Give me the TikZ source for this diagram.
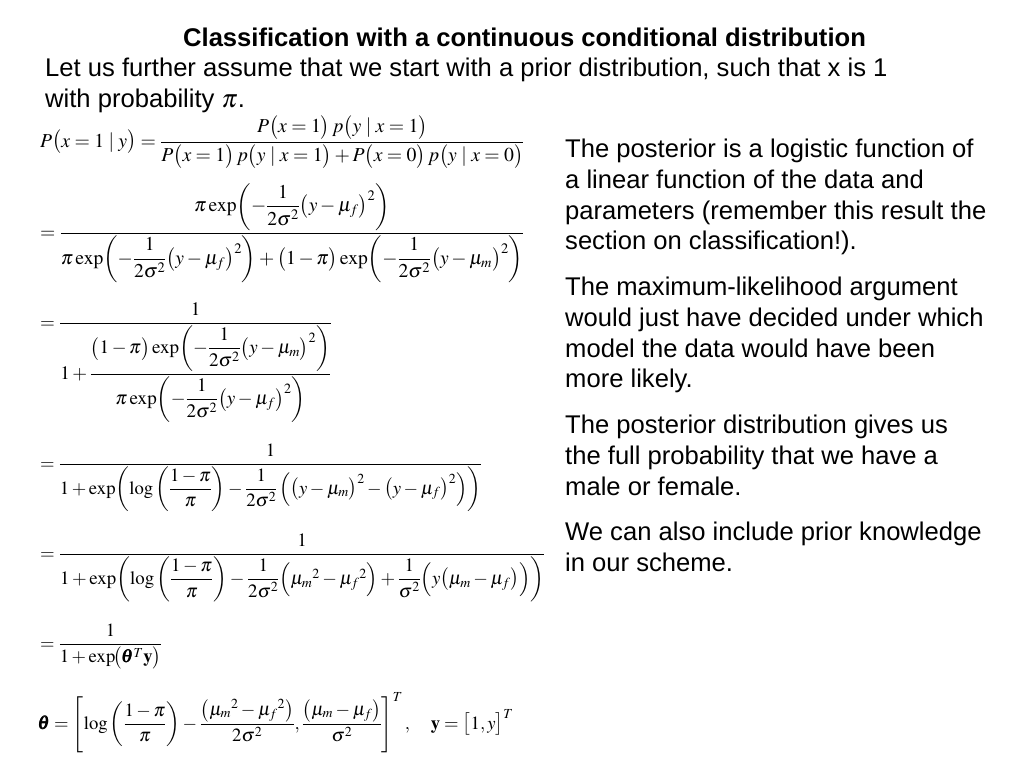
\documentclass[tikz,border=0pt]{standalone}
\usepackage{amsmath}
\usepackage{mathptmx}
\usepackage{graphicx}
\usepackage[no-math]{fontspec}
\setmainfont{Liberation Sans}
\tikzset{
  txt/.style={anchor=base west, inner sep=0pt, font=\fontsize{25.6}{30.7}\selectfont},
  ttl/.style={anchor=base, inner sep=0pt, font=\fontsize{25.6}{30.7}\selectfont\bfseries},
  eq/.style={anchor=base west, inner sep=0pt, font=\fontsize{22}{26}\selectfont},
}
\newcommand{\eqbox}[2]{\resizebox{#1pt}{!}{$\displaystyle #2$}}
\newcommand{\mybar}{\;|\;}
\newcommand{\halfsig}{\dfrac{1}{2\sigma^2}}
\newcommand{\xp}{\exp\!}
\begin{document}
\begin{tikzpicture}[x=1pt,y=-1pt]
\useasboundingbox[fill=white] (0,0) rectangle (1024,768);
\node[ttl] (title) at (524.5,46) {Classification with a continuous conditional distribution};
\node[txt] (intro1) at (45,76) {Let us further assume that we start with a prior distribution, such that x is 1};
\node[txt] (intro2) at (45,107) {with probability $\pi$.};

% equations
\node[eq] (e1) at (40,147) {\eqbox{484}{P\bigl(x=1\mybar y\bigr)=\dfrac{P\bigl(x=1\bigr)\,p\bigl(y\mybar x=1\bigr)}{P\bigl(x=1\bigr)\,p\bigl(y\mybar x=1\bigr)+P\bigl(x=0\bigr)\,p\bigl(y\mybar x=0\bigr)}}};

\node[eq] (e2) at (40,238) {\eqbox{484}{=\dfrac{\pi\xp\left(-\halfsig\bigl(y-\mu_f\bigr)^2\right)}{\pi\xp\left(-\halfsig\bigl(y-\mu_f\bigr)^2\right)+\bigl(1-\pi\bigr)\xp\left(-\halfsig\bigl(y-\mu_m\bigr)^2\right)}}};

\node[eq] (e3) at (40,328) {\eqbox{292}{=\dfrac{1}{1+\dfrac{\bigl(1-\pi\bigr)\xp\left(-\halfsig\bigl(y-\mu_m\bigr)^2\right)}{\pi\xp\left(-\halfsig\bigl(y-\mu_f\bigr)^2\right)}}}};

\node[eq] (e4) at (40,469) {\eqbox{442}{=\dfrac{1}{1+\xp\left(\log\left(\dfrac{1-\pi}{\pi}\right)-\halfsig\left(\bigl(y-\mu_m\bigr)^2-\bigl(y-\mu_f\bigr)^2\right)\right)}}};

\node[eq] (e5) at (40,559) {\eqbox{505}{=\dfrac{1}{1+\xp\left(\log\left(\dfrac{1-\pi}{\pi}\right)-\halfsig\Bigl({\mu_m}^2-{\mu_f}^2\Bigr)+\dfrac{1}{\sigma^2}\Bigl(y\bigl(\mu_m-\mu_f\bigr)\Bigr)\right)}}};

\node[eq] (e6) at (40,649) {\eqbox{122}{=\dfrac{1}{1+\xp\bigl(\pmb{\theta}^T\mathbf{y}\bigr)}}};

\node[eq] (e7) at (38,729) {\eqbox{475}{\pmb{\theta}=\left[\log\left(\dfrac{1-\pi}{\pi}\right)-\dfrac{\bigl({\mu_m}^2-{\mu_f}^2\bigr)}{2\sigma^2},\dfrac{\bigl(\mu_m-\mu_f\bigr)}{\sigma^2}\right]^T,\quad\mathbf{y}=\bigl[1,y\bigr]^T}};

% right column
\node[txt] (r1) at (565,157) {The posterior is a logistic function of};
\node[txt] (r2) at (565,188) {a linear function of the data and};
\node[txt] (r3) at (565,219) {parameters (remember this result the};
\node[txt] (r4) at (565,249) {section on classification!).};
\node[txt] (r5) at (565,295) {The maximum-likelihood argument};
\node[txt] (r6) at (565,326) {would just have decided under which};
\node[txt] (r7) at (565,357) {model the data would have been};
\node[txt] (r8) at (565,387) {more likely.};
\node[txt] (r9) at (565,433) {The posterior distribution gives us};
\node[txt] (r10) at (565,464) {the full probability that we have a};
\node[txt] (r11) at (565,495) {male or female.};
\node[txt] (r12) at (565,540) {We can also include prior knowledge};
\node[txt] (r13) at (565,571) {in our scheme.};
\end{tikzpicture}
\end{document}
